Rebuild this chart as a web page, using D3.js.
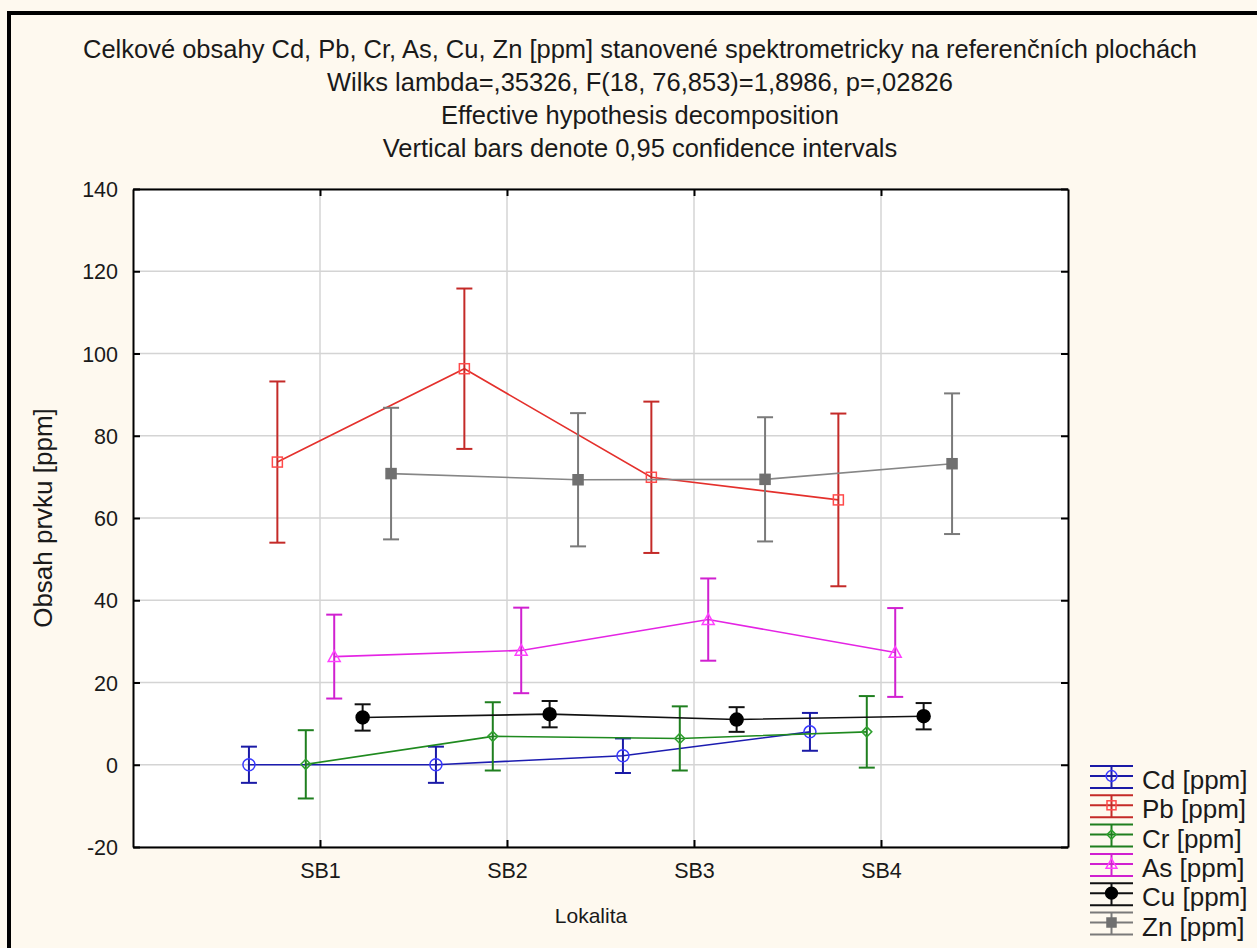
<!DOCTYPE html>
<html>
<head>
<meta charset="utf-8">
<script src="https://cdn.jsdelivr.net/npm/d3@7"></script>
<style>
  html, body { margin: 0; padding: 0; background: #fef9ef; }
  svg { display: block; }
  text { font-family: "Liberation Sans", Arial, sans-serif; fill: #1a1a1a; }
</style>
</head>
<body>
<svg id="chart" width="1257" height="948"></svg>
<script>
// Localities on the x axis
const categories = ["SB1", "SB2", "SB3", "SB4"];
const yTicks = [-20, 0, 20, 40, 60, 80, 100, 120, 140];

// Element names (legend order)
const seriesNames = ["Cd [ppm]", "Pb [ppm]", "Cr [ppm]", "As [ppm]", "Cu [ppm]", "Zn [ppm]"];

// Means and half-widths of 0.95 confidence intervals per locality
const cdMean = [0.0, 0.0, 2.2, 8.0];
const cdCI   = [4.4, 4.4, 4.2, 4.6];
const pbMean = [73.6, 96.3, 69.9, 64.4];
const pbCI   = [19.6, 19.5, 18.4, 21.0];
const crMean = [0.1, 6.9, 6.4, 8.0];
const crCI   = [8.3, 8.3, 7.8, 8.7];
const asMean = [26.3, 27.8, 35.3, 27.3];
const asCI   = [10.2, 10.4, 10.0, 10.8];
const cuMean = [11.5, 12.3, 11.0, 11.8];
const cuCI   = [3.2, 3.2, 3.0, 3.2];
const znMean = [70.8, 69.3, 69.4, 73.2];
const znCI   = [16.0, 16.2, 15.1, 17.1];

const titleLines = [
  "Celkové obsahy Cd, Pb, Cr, As, Cu, Zn [ppm] stanovené spektrometricky na referenčních plochách",
  "Wilks lambda=,35326, F(18, 76,853)=1,8986, p=,02826",
  "Effective hypothesis decomposition",
  "Vertical bars denote 0,95 confidence intervals"
];

const styles = [
  { line: "#1c1cb0", bar: "#1a1aa6", mark: "#3a3aff", shape: "circle",   fill: false },
  { line: "#e4302c", bar: "#c42a28", mark: "#ff4a4a", shape: "square",   fill: false },
  { line: "#1f8a1f", bar: "#1f7f1f", mark: "#2fa02f", shape: "diamond",  fill: false },
  { line: "#e424e4", bar: "#d020d0", mark: "#ff40ff", shape: "triangle", fill: false },
  { line: "#111111", bar: "#111111", mark: "#000000", shape: "circle",   fill: true  },
  { line: "#868686", bar: "#7a7a7a", mark: "#707070", shape: "square",   fill: true  }
];

const series = [
  { mean: cdMean, ci: cdCI }, { mean: pbMean, ci: pbCI }, { mean: crMean, ci: crCI },
  { mean: asMean, ci: asCI }, { mean: cuMean, ci: cuCI }, { mean: znMean, ci: znCI }
].map((s, i) => ({ name: seriesNames[i], ...s, ...styles[i] }));

const svg = d3.select("#chart");

// Outer frame
svg.append("rect").attr("x", 9).attr("y", 13).attr("width", 1300).attr("height", 1000)
  .attr("fill", "#fef9ef").attr("stroke", "#000").attr("stroke-width", 4);

const plot = { left: 133, right: 1068, top: 189, bottom: 847 };

const x = d3.scaleLinear().domain([0, categories.length + 1]).range([plot.left, plot.right]);
const y = d3.scaleLinear().domain([-20, 140]).range([plot.bottom, plot.top]);
const step = 0.152; // horizontal spread of the series within a locality

svg.append("rect").attr("x", plot.left).attr("y", plot.top)
  .attr("width", plot.right - plot.left).attr("height", plot.bottom - plot.top)
  .attr("fill", "#ffffff");

// Grid
const grid = svg.append("g").attr("stroke", "#d4d4d4").attr("stroke-width", 1.5);
yTicks.forEach(t => grid.append("line").attr("x1", plot.left).attr("x2", plot.right)
  .attr("y1", y(t)).attr("y2", y(t)));
categories.forEach((c, i) => grid.append("line").attr("x1", x(i + 1)).attr("x2", x(i + 1))
  .attr("y1", plot.top).attr("y2", plot.bottom));

// Axes: ticks point inward on all four sides
const yAxisL = d3.axisLeft(y).tickValues(yTicks).tickFormat(d => String(d))
  .tickSizeInner(-7).tickSizeOuter(0).tickPadding(15);
const yAxisR = d3.axisRight(y).tickValues(yTicks).tickSizeInner(-7).tickSizeOuter(0).tickFormat("");
const xAxisB = d3.axisBottom(x).tickValues(categories.map((c, i) => i + 1))
  .tickFormat((d) => categories[d - 1]).tickSizeInner(-7).tickSizeOuter(0).tickPadding(16);
const xAxisT = d3.axisTop(x).tickValues(categories.map((c, i) => i + 1))
  .tickSizeInner(-7).tickSizeOuter(0).tickFormat("");

function styleAxis(g) {
  g.select(".domain").attr("stroke", "#000").attr("stroke-width", 2);
  g.selectAll(".tick line").attr("stroke", "#000").attr("stroke-width", 2);
  g.selectAll(".tick text").attr("font-size", 21.5).attr("fill", "#1a1a1a")
    .attr("font-family", "Liberation Sans, Arial, sans-serif");
}
svg.append("g").attr("transform", `translate(${plot.left},0)`).call(yAxisL).call(styleAxis)
  .selectAll(".tick text").attr("dy", "0.35em");
svg.append("g").attr("transform", `translate(${plot.right},0)`).call(yAxisR).call(styleAxis);
svg.append("g").attr("transform", `translate(0,${plot.bottom})`).call(xAxisB).call(styleAxis);
svg.append("g").attr("transform", `translate(0,${plot.top})`).call(xAxisT).call(styleAxis);

// Marker drawing
function marker(g, shape, cx, cy, color, fill, scale) {
  const k = scale || 1;
  if (shape === "circle") {
    g.append("circle").attr("cx", cx).attr("cy", cy).attr("r", (fill ? 6.5 : 6) * k)
      .attr("fill", fill ? color : "none").attr("stroke", color).attr("stroke-width", 1.5);
  } else if (shape === "square") {
    const s = 10 * k;
    g.append("rect").attr("x", cx - s / 2).attr("y", cy - s / 2).attr("width", s).attr("height", s)
      .attr("fill", fill ? color : "none").attr("stroke", color).attr("stroke-width", 1.5);
  } else if (shape === "diamond") {
    const s = 5 * k;
    g.append("path").attr("d", `M${cx},${cy - s}L${cx + s},${cy}L${cx},${cy + s}L${cx - s},${cy}Z`)
      .attr("fill", fill ? color : "none").attr("stroke", color).attr("stroke-width", 1.5);
  } else if (shape === "triangle") {
    const s = 6 * k;
    g.append("path").attr("d", `M${cx},${cy - s}L${cx + s},${cy + s * 0.8}L${cx - s},${cy + s * 0.8}Z`)
      .attr("fill", fill ? color : "none").attr("stroke", color).attr("stroke-width", 1.5);
  }
}

// Series: connecting line, error bars, markers
const capHalf = 8;
series.forEach((s, si) => {
  const g = svg.append("g");
  const px = (ci) => x(ci + 1 + (si - 2.5) * step);
  const line = d3.line().x((d, i) => px(i)).y(d => y(d));
  g.append("path").datum(s.mean).attr("d", line).attr("fill", "none")
    .attr("stroke", s.line).attr("stroke-width", 1.6);
  s.mean.forEach((m, i) => {
    const cx = px(i);
    const lo = y(m - s.ci[i]), hi = y(m + s.ci[i]);
    g.append("line").attr("x1", cx).attr("x2", cx).attr("y1", lo).attr("y2", hi)
      .attr("stroke", s.bar).attr("stroke-width", 2);
    [lo, hi].forEach(v => g.append("line").attr("x1", cx - capHalf).attr("x2", cx + capHalf)
      .attr("y1", v).attr("y2", v).attr("stroke", s.bar).attr("stroke-width", 2));
    marker(g, s.shape, cx, y(m), s.mark, s.fill);
  });
});

// Titles
const title = svg.append("g");
titleLines.forEach((t, i) => title.append("text").attr("x", 640).attr("y", 58 + i * 33)
  .attr("text-anchor", "middle").attr("font-size", 25.5).text(t));

svg.append("text").attr("x", 591).attr("y", 923).attr("text-anchor", "middle")
  .attr("font-size", 21).text("Lokalita");
svg.append("text").attr("transform", "translate(52,518) rotate(-90)").attr("text-anchor", "middle")
  .attr("font-size", 26).text("Obsah prvku [ppm]");

// Legend
const legend = svg.append("g");
series.forEach((s, i) => {
  const cy = 776 + i * 29.3;
  const lg = legend.append("g");
  const x0 = 1090, x1 = 1133, xm = 1111.5;
  [cy - 10, cy, cy + 12].forEach(v => lg.append("line").attr("x1", x0).attr("x2", x1)
    .attr("y1", v).attr("y2", v).attr("stroke", s.bar).attr("stroke-width", 2));
  lg.append("line").attr("x1", xm).attr("x2", xm).attr("y1", cy - 10).attr("y2", cy + 12)
    .attr("stroke", s.bar).attr("stroke-width", 2);
  marker(lg, s.shape, xm, cy, s.mark, s.fill, 0.9);
  lg.append("text").attr("x", 1142).attr("y", cy + 4).attr("dy", "0.35em")
    .attr("font-size", 26).text(s.name);
});
</script>
</body>
</html>
